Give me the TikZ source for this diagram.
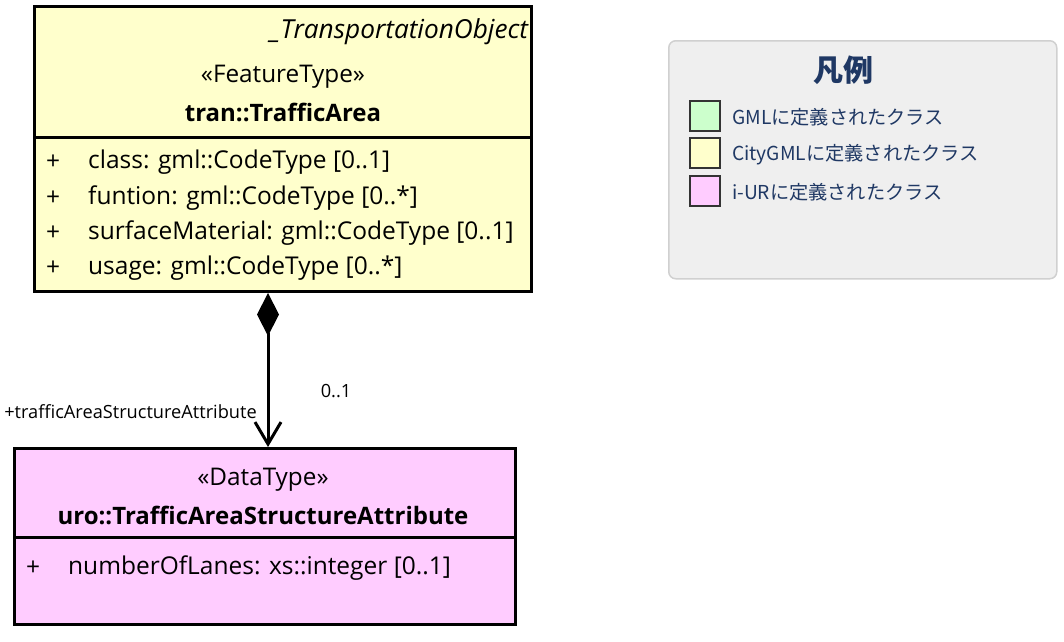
\documentclass[tikz,border=0pt]{standalone}
\usepackage{fontspec}
\setmainfont{Open Sans}
\newfontfamily\jp{Noto Sans CJK JP}
\usetikzlibrary{arrows.meta}
\definecolor{umlyellow}{RGB}{255,255,204}
\definecolor{umlpink}{RGB}{255,204,255}
\definecolor{umlgreen}{RGB}{204,255,204}
\definecolor{legfill}{RGB}{239,239,239}
\definecolor{legdraw}{RGB}{208,208,208}
\definecolor{navy}{RGB}{31,56,100}
\tikzset{
  classbox/.style={draw=black, line width=3pt, anchor=north west, inner sep=0pt},
  divider/.style={line width=3pt},
  stereo/.style={font=\fontsize{24.3}{29}\selectfont, inner sep=0pt},
  cname/.style={font=\fontsize{24}{29}\selectfont\bfseries, inner sep=0pt},
  attr/.style={font=\fontsize{24.5}{29}\selectfont, anchor=west, inner sep=0pt},
  conn/.style={line width=3pt},
  small/.style={font=\fontsize{18.2}{22}\selectfont, inner sep=0pt},
  swatch/.style={draw=black!80, line width=2pt, minimum width=30pt, minimum height=30pt, anchor=north west, inner sep=0pt},
  legtext/.style={font=\jp\fontsize{19.2}{23}\selectfont, text=navy, anchor=west, inner sep=0pt},
}
\begin{document}
\begin{tikzpicture}[x=1pt,y=-1pt]
\useasboundingbox (0,0) rectangle (1064,641);
% top class
\node[classbox, fill=umlyellow, minimum width=497pt, minimum height=285pt] (ta) at (33,5) {};
\draw[divider] (ta.west |- 0,137) -- (ta.east |- 0,137);
\begin{scope}
\clip (33,5) rectangle (528.5,137);
\node[stereo, anchor=west, font=\fontsize{26.2}{31}\selectfont\itshape] (tasuper) at (270,32) {\_TransportationObject};
\end{scope}
\node[stereo] (tast) at (283,77) {«FeatureType»};
\node[cname] (taname) at (283,112) {tran::TrafficArea};
\node[attr] (p1) at (46,162) {+};
\node[attr] (a1) at (88,162) {class: gml::CodeType [0..1]};
\node[attr] (p2) at (46,198) {+};
\node[attr] (a2) at (88,198) {funtion: gml::CodeType [0..*]};
\node[attr] (p3) at (46,233) {+};
\node[attr] (a3) at (88,233) {surfaceMaterial: gml::CodeType [0..1]};
\node[attr] (p4) at (46,268) {+};
\node[attr] (a4) at (88,268) {usage: gml::CodeType [0..*]};
% bottom class
\node[classbox, fill=umlpink, minimum width=501pt, minimum height=176pt] (uro) at (13,447) {};
\draw[divider] (uro.west |- 0,537) -- (uro.east |- 0,537);
\node[stereo] (urost) at (263,480) {«DataType»};
\node[cname] (uroname) at (263,515) {uro::TrafficAreaStructureAttribute};
\node[attr] (q1) at (26,568) {+};
\node[attr] (b1) at (68,568) {numberOfLanes: xs::integer [0..1]};
% connector
\draw[conn, {Diamond[length=43pt,width=22pt,fill=black]}-{Straight Barb[length=22pt,width=26pt,line width=3pt]}]
  (ta.south -| 268,0) -- (uro.north -| 268,0);
\node[small, anchor=east] (role) at (257,412) {+trafficAreaStructureAttribute};
\node[small] (mult) at (336,391) {0..1};
% legend
\node[draw=legdraw, line width=1.5pt, fill=legfill, rounded corners=7pt, minimum width=388pt, minimum height=238pt, anchor=north west, inner sep=0pt] (legend) at (668,40) {};
\node[font=\jp\bfseries\fontsize{30}{36}\selectfont, text=navy, inner sep=0pt] (legtitle) at (843,70) {凡例};
\node[swatch, fill=umlgreen] (s1) at (689,100) {};
\node[swatch, fill=umlyellow] (s2) at (689,137) {};
\node[swatch, fill=umlpink] (s3) at (689,175) {};
\node[legtext] (l1) at (732,117) {GMLに定義されたクラス};
\node[legtext] (l2) at (732,155) {CityGMLに定義されたクラス};
\node[legtext] (l3) at (732,192) {i-URに定義されたクラス};
\end{tikzpicture}
\end{document}
